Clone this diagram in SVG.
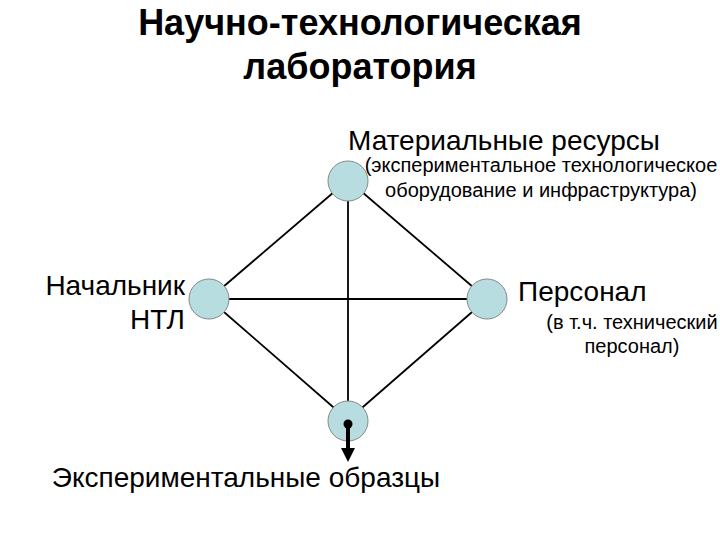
<svg xmlns="http://www.w3.org/2000/svg" width="720" height="540" viewBox="0 0 720 540">
<style>
text{font-family:"Liberation Sans",Arial,sans-serif;fill:#000}
.title{font-size:36px;font-weight:bold;text-anchor:middle}
.big{font-size:28px}
.small{font-size:20px}
.edge{stroke:#000;stroke-width:1.8;fill:none}
.node{fill:#b7dde0;stroke:#888;stroke-width:1}
</style>
<defs>
<marker id="arr" viewBox="0 0 10 10" refX="0" refY="5" markerUnits="userSpaceOnUse" markerWidth="14" markerHeight="14" orient="auto">
<path d="M0,0 L10,5 L0,10 z" fill="#000"/>
</marker>
</defs>
<text class="title" x="360" y="35">Научно-технологическая</text>
<text class="title" x="360" y="79">лаборатория</text>
<g id="connectors">
<line class="edge" x1="348" y1="180" x2="209" y2="299"/>
<line class="edge" x1="348" y1="180" x2="487" y2="299"/>
<line class="edge" x1="209" y1="299" x2="348" y2="420"/>
<line class="edge" x1="487" y1="299" x2="348" y2="420"/>
<line class="edge" x1="209" y1="299" x2="487" y2="299"/>
<line class="edge" x1="348" y1="180" x2="348" y2="420"/>
</g>
<g id="node-resources">
<circle class="node" cx="348" cy="181" r="20"/>
<text class="big" x="348" y="150">Материальные ресурсы</text>
<text class="small" x="541" y="172" text-anchor="middle">(экспериментальное технологическое</text>
<text class="small" x="541" y="197" text-anchor="middle">оборудование и инфраструктура)</text>
</g>
<g id="node-head">
<circle class="node" cx="209" cy="299" r="20"/>
<text class="big" x="185" y="295" text-anchor="end">Начальник</text>
<text class="big" x="185" y="329" text-anchor="end">НТЛ</text>
</g>
<g id="node-staff">
<circle class="node" cx="487" cy="299" r="20"/>
<text class="big" x="518" y="301">Персонал</text>
<text class="small" x="632" y="329" text-anchor="middle">(в т.ч. технический</text>
<text class="small" x="632" y="353" text-anchor="middle">персонал)</text>
</g>
<g id="node-samples">
<circle class="node" cx="348" cy="421" r="20"/>
<circle cx="348" cy="424" r="4.5" fill="#000"/>
<line x1="348" y1="424" x2="348" y2="448" stroke="#000" stroke-width="4" marker-end="url(#arr)"/>
<text class="big" x="246" y="487" text-anchor="middle">Экспериментальные образцы</text>
</g>
</svg>
